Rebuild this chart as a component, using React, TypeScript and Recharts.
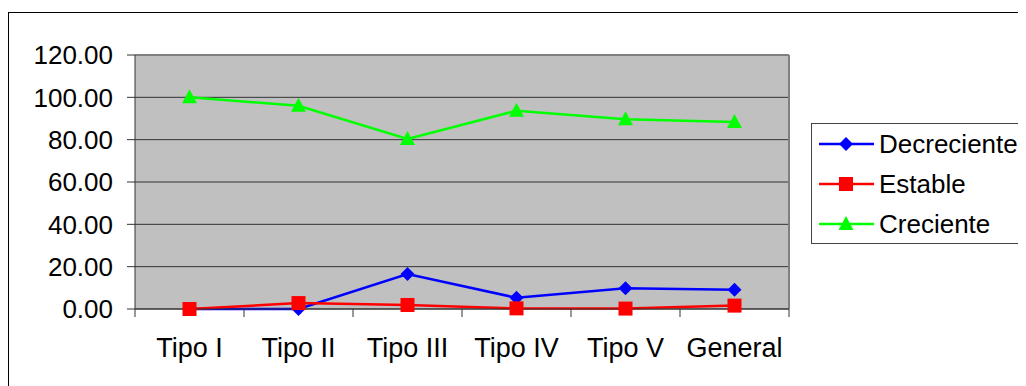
import { LineChart, Line, XAxis, YAxis, CartesianGrid, ReferenceLine } from 'recharts';

const categories = ['Tipo I', 'Tipo II', 'Tipo III', 'Tipo IV', 'Tipo V', 'General'];
const decreciente = [0, 0, 16.5, 5.3, 9.8, 9.1];
const estable = [0, 2.8, 1.9, 0.3, 0.2, 1.6];
const creciente = [100, 96, 80.3, 93.7, 89.6, 88.4];
const yTicks = [0, 20, 40, 60, 80, 100, 120];

const series = [
    { key: 'decreciente', name: 'Decreciente', color: '#0000FF', shape: 'diamond' },
    { key: 'estable', name: 'Estable', color: '#FF0000', shape: 'square' },
    { key: 'creciente', name: 'Creciente', color: '#00FF00', shape: 'triangle' },
];

const data = categories.map((name, i) => ({
    name,
    decreciente: decreciente[i],
    estable: estable[i],
    creciente: creciente[i],
}));

const W = 1018;
const H = 378;
const MARGIN = { top: 47, right: 237, bottom: 0, left: 0 };
const Y_AXIS_W = 127;
const BAND = (W - MARGIN.left - MARGIN.right - Y_AXIS_W) / categories.length;
const FONT = 27;
const Y_FONT = 26;
const LEGEND_FONT = 26;

function Marker({ shape, color, cx, cy }: { shape: string; color: string; cx: number; cy: number }) {
    if (shape === 'diamond') {
        const r = 7;
        return <path d={`M${cx},${cy - r}L${cx + r},${cy}L${cx},${cy + r}L${cx - r},${cy}Z`} fill={color} />;
    }
    if (shape === 'square') {
        return <rect x={cx - 7} y={cy - 7} width={14} height={14} fill={color} />;
    }
    return <path d={`M${cx},${cy - 8}L${cx + 7.5},${cy + 6}L${cx - 7.5},${cy + 6}Z`} fill={color} />;
}

const makeDot = (shape: string, color: string) => (p: any) => (
    <Marker key={`${shape}-${p.index}`} shape={shape} color={color} cx={p.cx} cy={p.cy} />
);

// category ticks sit between the categories, like the old spreadsheet charts
const CategoryTick = (props: any) => {
    const { x, y, payload, index } = props;
    const half = BAND / 2;
    return (
        <g>
            <line x1={x - half} x2={x - half} y1={y} y2={y + 8} stroke="#333" />
            {index === categories.length - 1 && (
                <line x1={x + half} x2={x + half} y1={y} y2={y + 8} stroke="#333" />
            )}
            <text x={x} y={y + 48} textAnchor="middle" fontSize={FONT} fill="#000">
                {payload.value}
            </text>
        </g>
    );
};

export default function App() {
    return (
        <div
            style={{
                position: 'relative',
                width: W,
                height: H,
                overflow: 'hidden',
                fontFamily: "Arial, 'Liberation Sans', sans-serif",
                background: '#fff',
            }}
        >
            <div
                style={{
                    position: 'absolute',
                    left: 0,
                    top: 4,
                    width: 1100,
                    height: 500,
                    borderLeft: '1px solid #000',
                    borderTop: '1px solid #000',
                }}
            />
            <div style={{ position: 'absolute', left: 0, top: 0 }}>
                <LineChart width={W} height={H} data={data} margin={MARGIN}>
                    <CartesianGrid fill="#C0C0C0" stroke="#333" vertical={false} />
                    {/* grey frame on the right edge of the plot */}
                    <CartesianGrid
                        horizontal={false}
                        stroke="#808080"
                        strokeWidth={2}
                        verticalCoordinatesGenerator={({ offset }: any) => [offset.left + offset.width]}
                    />
                    <ReferenceLine y={120} stroke="#808080" strokeWidth={2} />
                    <XAxis
                        dataKey="name"
                        interval={0}
                        padding={{ left: BAND / 2, right: BAND / 2 }}
                        tickLine={false}
                        tickSize={0}
                        tickMargin={0}
                        height={77}
                        stroke="#333"
                        tick={<CategoryTick />}
                    />
                    <YAxis
                        width={Y_AXIS_W}
                        domain={[0, 120]}
                        ticks={yTicks}
                        interval={0}
                        tickSize={8}
                        tickMargin={14}
                        stroke="#333"
                        tick={{ fontSize: Y_FONT, fill: '#000' }}
                        tickFormatter={(v: number) => v.toFixed(2)}
                    />
                    {series.map(s => (
                        <Line
                            key={s.key}
                            dataKey={s.key}
                            name={s.name}
                            stroke={s.color}
                            strokeWidth={2.5}
                            dot={makeDot(s.shape, s.color)}
                            activeDot={false}
                            isAnimationActive={false}
                        />
                    ))}
                </LineChart>
            </div>
            <div
                style={{
                    position: 'absolute',
                    left: 803,
                    top: 115,
                    width: 240,
                    height: 119,
                    border: '1px solid #444',
                    background: '#fff',
                }}
            >
                {series.map(s => (
                    <div key={s.key} style={{ height: 40, display: 'flex', alignItems: 'center' }}>
                        <svg width={62} height={40} style={{ flex: 'none' }}>
                            <line x1={7} x2={62} y1={20} y2={20} stroke={s.color} strokeWidth={2.5} />
                            <Marker shape={s.shape} color={s.color} cx={34} cy={20} />
                        </svg>
                        <span style={{ marginLeft: 5, fontSize: LEGEND_FONT, lineHeight: '40px', color: '#000' }}>
                            {s.name}
                        </span>
                    </div>
                ))}
            </div>
        </div>
    );
}
